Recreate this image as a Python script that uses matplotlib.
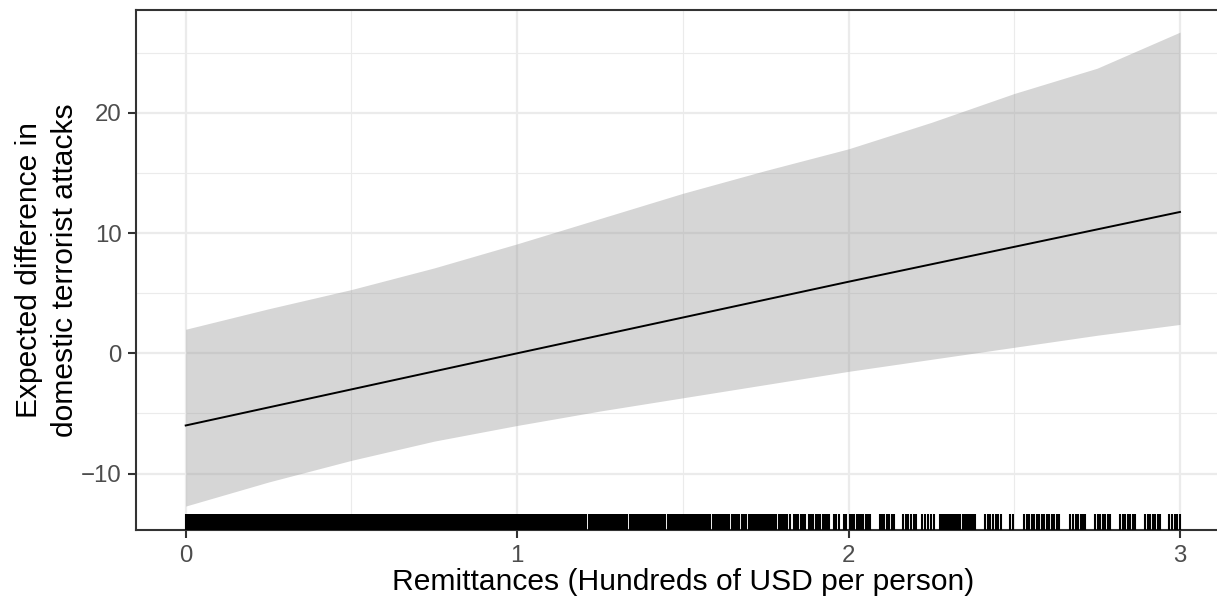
import numpy as np
import matplotlib
matplotlib.use("Agg")
import matplotlib.pyplot as plt
import matplotlib.transforms as mtransforms

# ---------------- data ----------------
x_grid = [0.0, 0.25, 0.5, 0.75, 1.0, 1.25, 1.5, 1.75, 2.0, 2.25, 2.5, 2.75, 3.0]
upper = [2.0, 3.7, 5.3, 7.1, 9.1, 11.2, 13.3, 15.2, 17.0, 19.2, 21.6, 23.7, 26.7]
lower = [-12.7, -10.7, -8.9, -7.3, -6.0, -4.8, -3.7, -2.6, -1.5, -0.5, 0.5, 1.5, 2.4]
fit_x = [0.0, 1.0, 2.0, 3.0]
fit_y = [-6.0, 0.0, 5.95, 11.75]

rug_x = [
    0.000, 0.005, 0.009, 0.014, 0.019, 0.023, 0.028, 0.033, 0.037, 0.042,
    0.047, 0.051, 0.056, 0.061, 0.065, 0.070, 0.075, 0.079, 0.084, 0.089,
    0.093, 0.098, 0.103, 0.107, 0.112, 0.117, 0.121, 0.126, 0.131, 0.135,
    0.140, 0.145, 0.149, 0.154, 0.159, 0.163, 0.168, 0.173, 0.177, 0.182,
    0.187, 0.191, 0.196, 0.201, 0.205, 0.210, 0.215, 0.219, 0.224, 0.229,
    0.233, 0.238, 0.243, 0.247, 0.252, 0.257, 0.261, 0.266, 0.271, 0.275,
    0.280, 0.285, 0.289, 0.294, 0.299, 0.303, 0.308, 0.313, 0.317, 0.322,
    0.327, 0.331, 0.336, 0.341, 0.345, 0.350, 0.355, 0.359, 0.364, 0.369,
    0.373, 0.378, 0.383, 0.387, 0.392, 0.397, 0.401, 0.406, 0.411, 0.415,
    0.420, 0.425, 0.429, 0.434, 0.439, 0.443, 0.448, 0.453, 0.457, 0.462,
    0.467, 0.471, 0.476, 0.481, 0.485, 0.490, 0.495, 0.499, 0.504, 0.509,
    0.513, 0.518, 0.523, 0.527, 0.532, 0.537, 0.541, 0.546, 0.551, 0.555,
    0.560, 0.565, 0.569, 0.574, 0.579, 0.583, 0.588, 0.593, 0.597, 0.602,
    0.607, 0.611, 0.616, 0.621, 0.625, 0.630, 0.635, 0.639, 0.644, 0.649,
    0.653, 0.658, 0.663, 0.667, 0.672, 0.677, 0.681, 0.686, 0.691, 0.695,
    0.700, 0.705, 0.709, 0.714, 0.719, 0.723, 0.728, 0.733, 0.737, 0.742,
    0.747, 0.751, 0.756, 0.761, 0.765, 0.770, 0.775, 0.779, 0.784, 0.789,
    0.793, 0.798, 0.803, 0.807, 0.812, 0.817, 0.821, 0.826, 0.831, 0.835,
    0.840, 0.845, 0.849, 0.854, 0.859, 0.863, 0.868, 0.873, 0.877, 0.882,
    0.887, 0.891, 0.896, 0.901, 0.905, 0.910, 0.915, 0.919, 0.924, 0.929,
    0.933, 0.938, 0.943, 0.947, 0.952, 0.957, 0.961, 0.966, 0.971, 0.975,
    0.980, 0.985, 0.989, 0.994, 0.999,
    1.004, 1.008, 1.013, 1.018, 1.022, 1.027, 1.032, 1.036, 1.041, 1.046,
    1.050, 1.055, 1.060, 1.064, 1.069, 1.074, 1.078, 1.083, 1.088, 1.092,
    1.097, 1.102, 1.106, 1.111, 1.116, 1.120, 1.125, 1.130, 1.134, 1.139,
    1.144, 1.148, 1.153, 1.158, 1.162, 1.167, 1.172, 1.176, 1.181, 1.186,
    1.190, 1.195, 1.200, 1.204, 1.209, 1.218, 1.223, 1.228, 1.232,
    1.237, 1.242, 1.246, 1.251, 1.256, 1.260, 1.265, 1.270, 1.274, 1.279,
    1.284, 1.288, 1.293, 1.298, 1.302, 1.307, 1.312, 1.316, 1.321, 1.326,
    1.331, 1.340, 1.344, 1.349, 1.354, 1.358, 1.363, 1.368, 1.372,
    1.377, 1.382, 1.386, 1.391, 1.396, 1.400, 1.405, 1.410, 1.414, 1.419,
    1.424, 1.428, 1.433, 1.438, 1.442, 1.447, 1.456, 1.461, 1.466, 1.470,
    1.475, 1.480, 1.484, 1.489, 1.494, 1.498, 1.503, 1.508, 1.512, 1.518,
    1.526, 1.531, 1.536, 1.540, 1.545,
    1.552, 1.557, 1.562, 1.567, 1.572, 1.578, 1.583, 1.590, 1.595, 1.601,
    1.606, 1.613, 1.618, 1.624, 1.630, 1.635, 1.640, 1.647, 1.652, 1.658,
    1.664, 1.670, 1.678, 1.685, 1.691,
    1.700, 1.705, 1.710, 1.715, 1.720, 1.727, 1.732, 1.738, 1.744, 1.750,
    1.757, 1.762, 1.768, 1.775, 1.781, 1.790, 1.796, 1.803, 1.809, 1.815,
    1.822, 1.835, 1.841, 1.848, 1.855, 1.862, 1.868, 1.880, 1.886, 1.893,
    1.902, 1.908, 1.915, 1.922, 1.928, 1.934, 1.940, 1.955, 1.962, 1.972,
    1.985, 1.992,
    2.005, 2.011, 2.017, 2.024, 2.030, 2.038, 2.045, 2.052, 2.058, 2.065,
    2.095, 2.101, 2.108, 2.115, 2.122, 2.130, 2.138,
    2.165, 2.172, 2.180, 2.188, 2.196, 2.203, 2.222, 2.230, 2.240, 2.248,
    2.258, 2.276, 2.282, 2.288, 2.294, 2.300, 2.306, 2.312, 2.318, 2.324,
    2.330, 2.337, 2.344, 2.350, 2.357, 2.364, 2.370, 2.376, 2.382,
    2.412, 2.420, 2.428, 2.436, 2.445, 2.452, 2.460, 2.487, 2.495,
    2.530, 2.537, 2.545, 2.552, 2.560, 2.568, 2.575, 2.583, 2.590, 2.598,
    2.605, 2.613, 2.620, 2.628, 2.636,
    2.668, 2.676, 2.685, 2.692, 2.700, 2.707, 2.714, 2.745, 2.753, 2.760,
    2.768, 2.775, 2.782, 2.789, 2.820, 2.828, 2.835, 2.843, 2.850, 2.857,
    2.864, 2.893, 2.902, 2.910, 2.918, 2.925, 2.933, 2.940,
    2.968, 2.976, 2.985, 2.992, 3.000,
]

x_ticks = [0, 1, 2, 3]
y_ticks = [-10, 0, 10, 20]
x_minor = [0.5, 1.5, 2.5]
y_minor = [-5, 5, 15, 25]
x_label = "Remittances (Hundreds of USD per person)"
y_label = "Expected difference in\ndomestic terrorist attacks"

# ---------------- figure ----------------
plt.rcParams['font.family'] = ['Liberation Sans', 'DejaVu Sans']
W, H = 1217, 600
fig = plt.figure(figsize=(W / 100, H / 100), dpi=100)
fig.patch.set_facecolor('white')

left_px, right_px, top_px, bottom_px = 136, 1229.7, 10, 530
ax = fig.add_axes([left_px / W, 1 - bottom_px / H,
                   (right_px - left_px) / W, (bottom_px - top_px) / H])
ax.set_xlim(-0.15, 3.15)
ax.set_ylim(-14.69, 28.54)

# grid
ax.set_xticks(x_ticks)
ax.set_yticks(y_ticks)
ax.set_xticks(x_minor, minor=True)
ax.set_yticks(y_minor, minor=True)
ax.grid(which='major', color='#EBEBEB', linewidth=1.6)
ax.grid(which='minor', color='#EBEBEB', linewidth=0.8)
ax.set_axisbelow(True)
ax.tick_params(which='minor', length=0)

# ribbon
ax.fill_between(x_grid, lower, upper, color='#999999', alpha=0.4, linewidth=0, zorder=2)
# fit line
ax.plot(fit_x, fit_y, color='black', linewidth=1.4, zorder=3)
# rug
trans = mtransforms.blended_transform_factory(ax.transData, ax.transAxes)
ax.vlines(rug_x, 0, 0.03, transform=trans, color='black', linewidth=1.5, zorder=4)

# spines
for s in ['left', 'top', 'bottom', 'right']:
    ax.spines[s].set_color('#333333')
    ax.spines[s].set_linewidth(1.5)

ax.tick_params(which='major', direction='out', length=5.5, width=1.5, color='#333333',
               labelsize=17.3, labelcolor='#4D4D4D', pad=5)
ax.set_xticklabels([str(v) for v in x_ticks])
ax.set_yticklabels(['\u221210', '0', '10', '20'])

fig.text((left_px + right_px) / 2 / W, 1 - 582 / H, x_label, ha='center', va='center',
         fontsize=21.6, color='black')
fig.text(47 / W, 1 - 270 / H, y_label, ha='center', va='center', rotation=90,
         fontsize=21.6, color='black', linespacing=1.35)

fig.savefig('out.png', dpi=100)
